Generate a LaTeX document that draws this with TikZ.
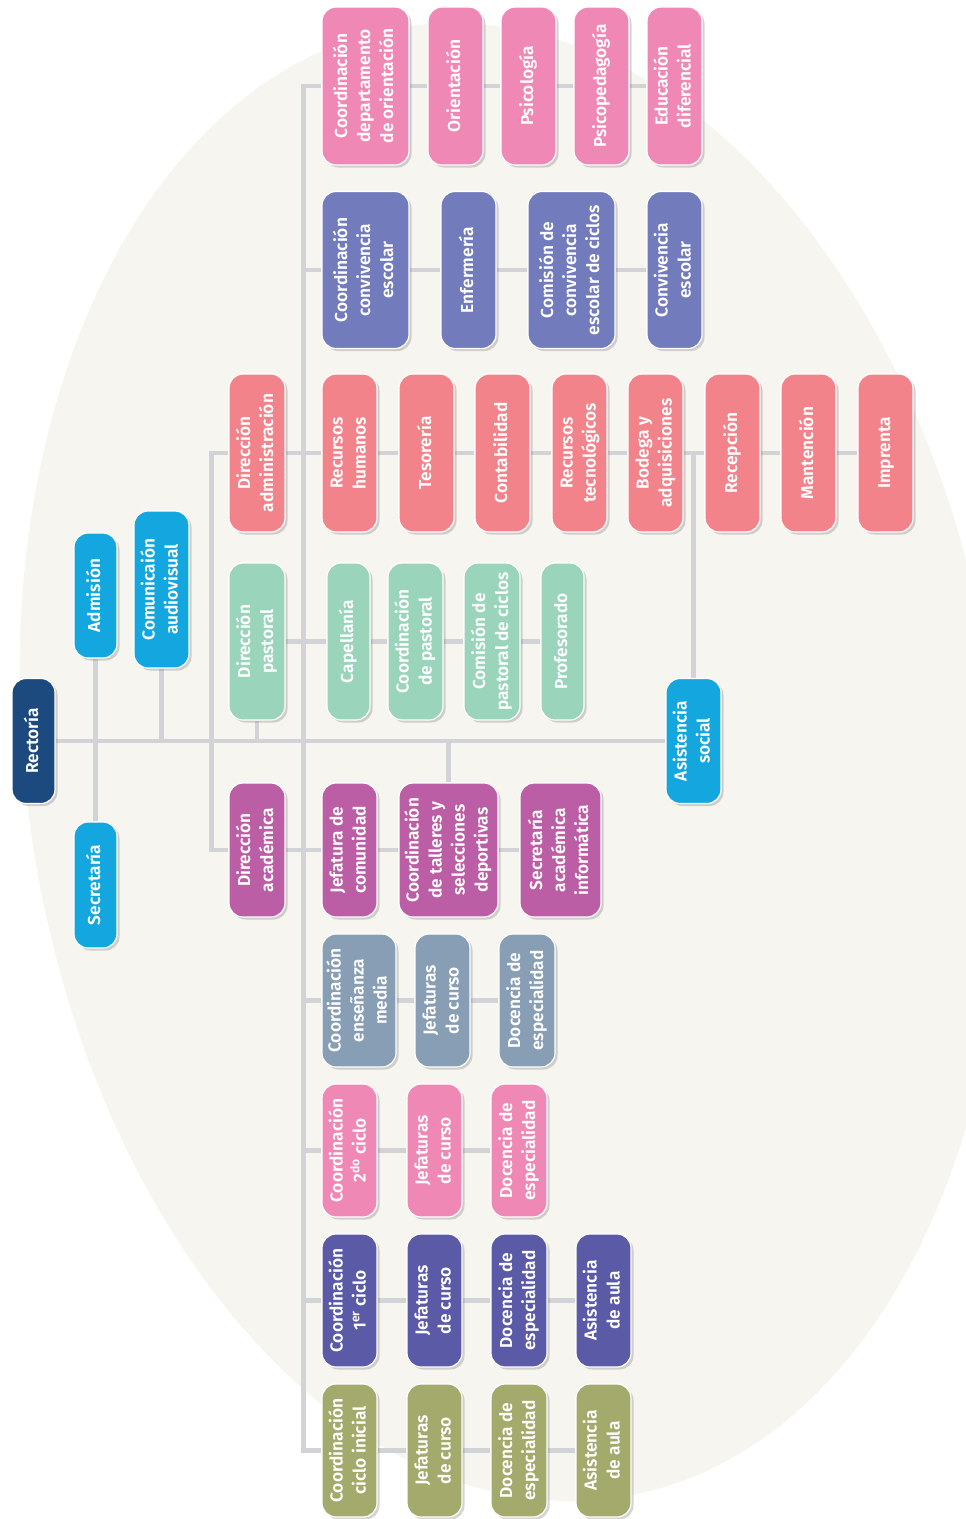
\documentclass[tikz,border=0pt]{standalone}
\usepackage{fontspec}
\usepackage{graphicx}
\newfontfamily\boxfont{Fira Sans SemiBold}
\usetikzlibrary{shadows}
\definecolor{navycolor}{HTML}{1D4A7E}
\definecolor{cyancolor}{HTML}{14A7DF}
\definecolor{salmoncolor}{HTML}{F3838A}
\definecolor{mintcolor}{HTML}{9AD4BB}
\definecolor{orchidcolor}{HTML}{BC5EA6}
\definecolor{pinkcolor}{HTML}{F088B5}
\definecolor{periwinklecolor}{HTML}{727CBD}
\definecolor{slatecolor}{HTML}{889EB5}
\definecolor{indigocolor}{HTML}{5A5AA7}
\definecolor{olivecolor}{HTML}{A4AA6C}
\definecolor{linecolor}{HTML}{D2D3D7}
\definecolor{beigecolor}{HTML}{F7F5EF}
\pgfdeclarelayer{ellipselayer}
\pgfdeclarelayer{linelayer}
\pgfsetlayers{ellipselayer,linelayer,main}
\newcommand{\vtext}[1]{\rotatebox{90}{\begin{tabular}{@{}c@{}}#1\end{tabular}}}

\begin{document}
\begin{tikzpicture}[x=1pt, y=-1pt,
    unit/.style={rectangle, rounded corners=14pt, draw=white, line width=1.2pt, text=white, inner sep=0pt,
        font=\boxfont\fontsize{17.3}{23}\selectfont,
        drop shadow={shadow xshift=2.5pt, shadow yshift=-2.5pt, opacity=0.3, fill=black!55}},
    boxsize/.style 2 args={minimum width=#1pt, minimum height=#2pt},
    link/.style={draw=linecolor, line width=4.5pt}]

    \useasboundingbox (0,0) rectangle (966,1519);
    \begin{pgfonlayer}{ellipselayer}
    \fill[white] (0,0) rectangle (966,1519);
    \clip (0,0) rectangle (966,1519);
    \fill[beigecolor, rotate around={8:(512,762)}] (512,762) ellipse [x radius=486, y radius=743];
    \end{pgfonlayer}

    % management
    \node [unit, fill=navycolor, boxsize={43}{125}] (rect) at (33.5,741) {\vtext{Rectoría}};
    \node [unit, fill=cyancolor, boxsize={43}{125}] (adm) at (95.5,595.5) {\vtext{Admisión}};
    \node [unit, fill=cyancolor, boxsize={43}{126}] (sec) at (95.5,885) {\vtext{Secretaría}};
    \node [unit, fill=cyancolor, boxsize={55}{157}] (com) at (161.5,589.5) {\vtext{Comunicaión\\audiovisual}};
    \node [unit, fill=salmoncolor, boxsize={56}{158}] (dadm) at (257,453) {\vtext{Dirección\\administración}};
    \node [unit, fill=mintcolor, boxsize={56}{157}] (dpas) at (257,641.5) {\vtext{Dirección\\pastoral}};
    \node [unit, fill=orchidcolor, boxsize={56}{134}] (daca) at (257,850) {\vtext{Dirección\\académica}};
    \node [unit, fill=cyancolor, boxsize={55}{125}] (asis) at (693.5,741) {\vtext{Asistencia\\social}};

    % orientacion
    \node [unit, fill=pinkcolor, boxsize={87}{158}] (cdo) at (365.5,86) {\vtext{Coordinación\\departamento\\de orientación}};
    \node [unit, fill=pinkcolor, boxsize={55}{158}] (ori) at (455.5,86) {\vtext{Orientación}};
    \node [unit, fill=pinkcolor, boxsize={55}{158}] (psi) at (528.5,86) {\vtext{Psicología}};
    \node [unit, fill=pinkcolor, boxsize={55}{158}] (pspd) at (601.5,86) {\vtext{Psicopedagogía}};
    \node [unit, fill=pinkcolor, boxsize={55}{158}] (edif) at (674.5,86) {\vtext{Educación\\diferencial}};

    % convivencia
    \node [unit, fill=periwinklecolor, boxsize={87}{157}] (ccon) at (365.5,270) {\vtext{Coordinación\\convivencia\\escolar}};
    \node [unit, fill=periwinklecolor, boxsize={55}{157}] (enf) at (468.5,270) {\vtext{Enfermería}};
    \node [unit, fill=periwinklecolor, boxsize={87}{157}] (ccc) at (571.5,270) {\vtext{Comisión de\\convivencia\\escolar de ciclos}};
    \node [unit, fill=periwinklecolor, boxsize={55}{157}] (conv) at (674.5,270) {\vtext{Convivencia\\escolar}};

    % administracion
    \node [unit, fill=salmoncolor, boxsize={55}{158}] (rh) at (349.5,453) {\vtext{Recursos\\humanos}};
    \node [unit, fill=salmoncolor, boxsize={55}{158}] (tes) at (426.5,453) {\vtext{Tesorería}};
    \node [unit, fill=salmoncolor, boxsize={55}{158}] (cont) at (502.5,453) {\vtext{Contabilidad}};
    \node [unit, fill=salmoncolor, boxsize={55}{158}] (rtec) at (579.5,453) {\vtext{Recursos\\tecnológicos}};
    \node [unit, fill=salmoncolor, boxsize={55}{158}] (bod) at (655.5,453) {\vtext{Bodega y\\adquisiciones}};
    \node [unit, fill=salmoncolor, boxsize={55}{158}] (rec) at (732.5,453) {\vtext{Recepción}};
    \node [unit, fill=salmoncolor, boxsize={55}{158}] (mant) at (808.5,453) {\vtext{Mantención}};
    \node [unit, fill=salmoncolor, boxsize={55}{158}] (impr) at (885.5,453) {\vtext{Imprenta}};

    % pastoral
    \node [unit, fill=mintcolor, boxsize={43}{157}] (cap) at (348.5,641.5) {\vtext{Capellanía}};
    \node [unit, fill=mintcolor, boxsize={55}{157}] (cpas) at (415.5,641.5) {\vtext{Coordinación\\de pastoral}};
    \node [unit, fill=mintcolor, boxsize={56}{157}] (cpc) at (492,641.5) {\vtext{Comisión de\\pastoral de ciclos}};
    \node [unit, fill=mintcolor, boxsize={43}{157}] (prof) at (562.5,641.5) {\vtext{Profesorado}};

    % academica
    \node [unit, fill=orchidcolor, boxsize={55}{134}] (jcom) at (349.5,850) {\vtext{Jefatura de\\comunidad}};
    \node [unit, fill=orchidcolor, boxsize={99}{134}] (ctal) at (448.5,850) {\vtext{Coordinación\\de talleres y\\selecciones\\deportivas}};
    \node [unit, fill=orchidcolor, boxsize={81}{134}] (sai) at (560.5,850) {\vtext{Secretaría\\académica\\informática}};

    % ensenanza media
    \node [unit, fill=slatecolor, boxsize={74}{133}] (cem) at (359,1000.5) {\vtext{Coordinación\\enseñanza\\media}};
    \node [unit, fill=slatecolor, boxsize={55}{133}] (jm) at (442.5,1000.5) {\vtext{Jefaturas\\de curso}};
    \node [unit, fill=slatecolor, boxsize={56}{133}] (dm) at (527,1000.5) {\vtext{Docencia de\\especialidad}};

    % segundo ciclo
    \node [unit, fill=pinkcolor, boxsize={55}{133}] (c2) at (349.5,1150.5) {\vtext{Coordinación\\2\textsuperscript{do} ciclo}};
    \node [unit, fill=pinkcolor, boxsize={55}{133}] (j2) at (434.5,1150.5) {\vtext{Jefaturas\\de curso}};
    \node [unit, fill=pinkcolor, boxsize={56}{133}] (d2) at (519,1150.5) {\vtext{Docencia de\\especialidad}};

    % primer ciclo
    \node [unit, fill=indigocolor, boxsize={55}{133}] (c1) at (349.5,1300.5) {\vtext{Coordinación\\1\textsuperscript{er} ciclo}};
    \node [unit, fill=indigocolor, boxsize={55}{133}] (j1) at (434.5,1300.5) {\vtext{Jefaturas\\de curso}};
    \node [unit, fill=indigocolor, boxsize={56}{133}] (d1) at (519,1300.5) {\vtext{Docencia de\\especialidad}};
    \node [unit, fill=indigocolor, boxsize={55}{133}] (a1) at (603.5,1300.5) {\vtext{Asistencia\\de aula}};

    % ciclo inicial
    \node [unit, fill=olivecolor, boxsize={55}{133}] (ci) at (349.5,1450.5) {\vtext{Coordinación\\ciclo inicial}};
    \node [unit, fill=olivecolor, boxsize={55}{133}] (ji) at (434.5,1450.5) {\vtext{Jefaturas\\de curso}};
    \node [unit, fill=olivecolor, boxsize={56}{133}] (di) at (519,1450.5) {\vtext{Docencia de\\especialidad}};
    \node [unit, fill=olivecolor, boxsize={55}{133}] (ai) at (603.5,1450.5) {\vtext{Asistencia\\de aula}};

    \begin{pgfonlayer}{linelayer}
    \draw [link] (rect.east) -- (asis.west);
    \draw [link] (adm.south) -- (sec.north);
    \draw [link] (com.south) -- (com.south |- rect.east);
    \draw [link] (dpas.south) -- (dpas.south |- rect.east);
    \draw [link] (ctal.north) -- (ctal.north |- rect.east);
    \draw [link] (asis.north) -- (asis.north |- bod.east);
    \draw [link] (dadm.west) -- ++(-17,0) |- (daca.west);
    \draw [link] (cdo.west) -- ++(-18,0) |- (ci.west);
    \foreach \n in {ccon,cem,c2,c1}
        \draw [link] (\n.west) -- ++(-18,0);
    \foreach \a/\b in {cdo/ori, ori/psi, psi/pspd, pspd/edif,
                       ccon/enf, enf/ccc, ccc/conv,
                       dadm/rh, rh/tes, tes/cont, cont/rtec, rtec/bod, bod/rec, rec/mant, mant/impr,
                       dpas/cap, cap/cpas, cpas/cpc, cpc/prof,
                       daca/jcom, jcom/ctal, ctal/sai,
                       cem/jm, jm/dm, c2/j2, j2/d2,
                       c1/j1, j1/d1, d1/a1, ci/ji, ji/di, di/ai}
        \draw [link] (\a.east) -- (\b.west);
    \end{pgfonlayer}

\end{tikzpicture}
\end{document}
